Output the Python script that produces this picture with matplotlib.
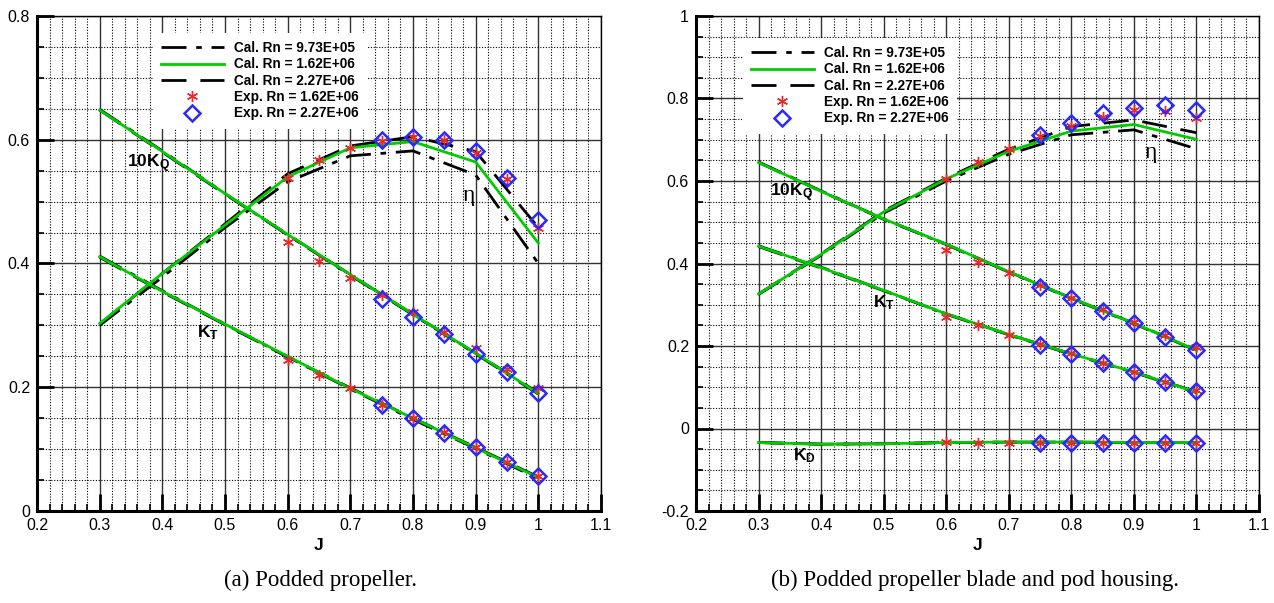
import matplotlib
matplotlib.use("Agg")
import matplotlib.pyplot as plt
from matplotlib.ticker import MultipleLocator, FuncFormatter
from matplotlib.lines import Line2D

plt.rcParams['font.family'] = ['Liberation Sans', 'DejaVu Sans']
plt.rcParams['mathtext.fontset'] = 'custom'
plt.rcParams['mathtext.rm'] = 'Liberation Sans'
plt.rcParams['mathtext.bf'] = 'Liberation Sans:bold'

# ---------------- data ----------------
J_cal = [0.3, 0.4, 0.5, 0.6, 0.7, 0.8, 0.9, 1.0]
J_exp162 = [0.6, 0.65, 0.7, 0.75, 0.8, 0.85, 0.9, 0.95, 1.0]
J_exp227 = [0.75, 0.8, 0.85, 0.9, 0.95, 1.0]

legend_labels = ["Cal. Rn = 9.73E+05", "Cal. Rn = 1.62E+06", "Cal. Rn = 2.27E+06",
                 "Exp. Rn = 1.62E+06", "Exp. Rn = 2.27E+06"]

# (a) podded propeller
a_eta_973 = [0.300, 0.378, 0.458, 0.532, 0.574, 0.582, 0.543, 0.400]
a_eta_162 = [0.303, 0.384, 0.462, 0.540, 0.587, 0.597, 0.564, 0.433]
a_eta_227 = [0.302, 0.384, 0.464, 0.545, 0.590, 0.605, 0.581, 0.458]
a_kt_973 = [0.412, 0.356, 0.302, 0.249, 0.197, 0.148, 0.101, 0.052]
a_kt_162 = [0.411, 0.355, 0.302, 0.250, 0.198, 0.150, 0.102, 0.054]
a_kt_227 = [0.410, 0.354, 0.301, 0.249, 0.199, 0.150, 0.103, 0.055]
a_kq_973 = [0.649, 0.582, 0.513, 0.446, 0.381, 0.317, 0.254, 0.189]
a_kq_162 = [0.648, 0.581, 0.513, 0.447, 0.382, 0.318, 0.255, 0.190]
a_kq_227 = [0.648, 0.580, 0.512, 0.447, 0.382, 0.318, 0.255, 0.191]
a_eta_e162 = [0.538, 0.567, 0.587, 0.598, 0.605, 0.600, 0.578, 0.537, 0.458]
a_kt_e162 = [0.244, 0.220, 0.198, 0.172, 0.150, 0.127, 0.104, 0.080, 0.057]
a_kq_e162 = [0.435, 0.404, 0.377, 0.349, 0.322, 0.290, 0.263, 0.229, 0.198]
a_eta_e227 = [0.600, 0.605, 0.600, 0.582, 0.538, 0.470]
a_kt_e227 = [0.172, 0.150, 0.126, 0.103, 0.079, 0.057]
a_kq_e227 = [0.343, 0.314, 0.286, 0.254, 0.225, 0.191]

# (b) blade and pod housing
b_eta_973 = [0.325, 0.420, 0.522, 0.600, 0.665, 0.712, 0.724, 0.678]
b_eta_162 = [0.326, 0.422, 0.525, 0.605, 0.672, 0.721, 0.737, 0.701]
b_eta_227 = [0.326, 0.423, 0.527, 0.607, 0.677, 0.732, 0.748, 0.717]
b_kt_973 = [0.443, 0.391, 0.335, 0.277, 0.227, 0.180, 0.136, 0.087]
b_kt_162 = [0.442, 0.390, 0.335, 0.278, 0.228, 0.181, 0.137, 0.088]
b_kt_227 = [0.441, 0.389, 0.334, 0.278, 0.228, 0.181, 0.137, 0.089]
b_kq_973 = [0.646, 0.576, 0.508, 0.446, 0.379, 0.315, 0.254, 0.189]
b_kq_162 = [0.645, 0.575, 0.508, 0.447, 0.380, 0.316, 0.255, 0.190]
b_kq_227 = [0.645, 0.575, 0.507, 0.447, 0.380, 0.316, 0.255, 0.191]
b_kd_973 = [-0.034, -0.038, -0.037, -0.034, -0.033, -0.033, -0.034, -0.034]
b_kd_162 = [-0.034, -0.038, -0.037, -0.034, -0.033, -0.033, -0.034, -0.034]
b_kd_227 = [-0.034, -0.038, -0.037, -0.034, -0.033, -0.033, -0.034, -0.035]
b_eta_e162 = [0.606, 0.645, 0.677, 0.708, 0.733, 0.756, 0.772, 0.770, 0.752]
b_kt_e162 = [0.271, 0.251, 0.227, 0.204, 0.182, 0.160, 0.138, 0.113, 0.093]
b_kq_e162 = [0.433, 0.404, 0.376, 0.348, 0.316, 0.289, 0.259, 0.227, 0.198]
b_kd_e162 = [-0.033, -0.034, -0.034, -0.034, -0.034, -0.034, -0.034, -0.035, -0.035]
b_eta_e227 = [0.711, 0.740, 0.764, 0.778, 0.784, 0.772]
b_kt_e227 = [0.203, 0.181, 0.159, 0.137, 0.112, 0.092]
b_kq_e227 = [0.344, 0.316, 0.286, 0.255, 0.223, 0.190]
b_kd_e227 = [-0.035, -0.035, -0.036, -0.036, -0.036, -0.036]

# ---------------- styles ----------------
GREEN = '#00cc00'
RED = '#e8282a'
BLUE = '#2a2aff'
DASHDOT = (0, (9, 3.5, 2, 3.5))
DASHED = (0, (9, 5))
STAR = (6, 2, 0)
STAR_KW = dict(marker=STAR, ms=8, mew=1.0, color=RED)
DIAM_KW = dict(marker='D', ms=8.5, mew=1.8, mfc='none', mec=BLUE)

W, H = 1274, 603
fig = plt.figure(figsize=(W / 100, H / 100), dpi=100)
axA = fig.add_axes([37 / W, 1 - 511 / H, (601 - 37) / W, (511 - 16) / H])
axB = fig.add_axes([696 / W, 1 - 511 / H, (1259 - 696) / W, (511 - 16) / H])


def style_axes(ax, ymin, ymax):
    ax.set_xlim(0.2, 1.1)
    ax.set_ylim(ymin, ymax)
    ax.xaxis.set_major_locator(MultipleLocator(0.1))
    ax.xaxis.set_minor_locator(MultipleLocator(0.02))
    ax.yaxis.set_major_locator(MultipleLocator(0.2))
    ax.yaxis.set_minor_locator(MultipleLocator(0.05))
    fmt = FuncFormatter(lambda v, p: ('%g' % round(v, 3)))
    ax.xaxis.set_major_formatter(fmt)
    ax.yaxis.set_major_formatter(fmt)
    ax.grid(which='major', color='#333333', lw=1.0, ls='-', zorder=0)
    ax.grid(which='minor', color='#000000', lw=0.8, ls=(0, (1, 1.5)), zorder=0)
    ax.set_axisbelow(True)
    for s in ('left', 'bottom'):
        ax.spines[s].set_linewidth(2.2)
    for s in ('top', 'right'):
        ax.spines[s].set_linewidth(1.0)
    ax.tick_params(which='major', direction='in', length=12, width=2,
                   labelsize=11.5, top=False, right=False, pad=5)
    ax.tick_params(which='minor', direction='in', length=5, width=1.2,
                   top=False, right=False)
    ax.set_xlabel('J', fontsize=12.5, fontweight='bold', labelpad=4)


def plot_calc(ax, y973, y162, y227):
    ax.plot(J_cal, y973, color='black', lw=2, ls=DASHDOT, zorder=3)
    ax.plot(J_cal, y162, color=GREEN, lw=2, ls='-', zorder=4)
    ax.plot(J_cal, y227, color='black', lw=2, ls=DASHED, zorder=3)


def plot_exp(ax, y162, y227):
    ax.plot(J_exp162, y162, ls='none', zorder=5, **STAR_KW)
    ax.plot(J_exp227, y227, ls='none', zorder=6, **DIAM_KW)


def add_legend(ax, x0, y0):
    handles = [
        Line2D([], [], color='black', lw=2, ls=DASHDOT),
        Line2D([], [], color=GREEN, lw=2, ls='-'),
        Line2D([], [], color='black', lw=2, ls=DASHED),
        Line2D([], [], ls='none', **STAR_KW),
        Line2D([], [], ls='none', **DIAM_KW),
    ]
    leg = ax.legend(handles, legend_labels, loc='upper left',
                    bbox_to_anchor=(x0, y0), borderaxespad=0,
                    frameon=True, fancybox=False, facecolor='white',
                    edgecolor='none', framealpha=1, handlelength=4.6,
                    handletextpad=0.75, labelspacing=0.17, borderpad=0.6,
                    prop={'weight': 'bold', 'size': 9.8}, numpoints=1)
    leg.set_zorder(10)


# ---------------- panel (a) ----------------
style_axes(axA, 0, 0.8)
plot_calc(axA, a_eta_973, a_eta_162, a_eta_227)
plot_calc(axA, a_kt_973, a_kt_162, a_kt_227)
plot_calc(axA, a_kq_973, a_kq_162, a_kq_227)
plot_exp(axA, a_eta_e162, a_eta_e227)
plot_exp(axA, a_kt_e162, a_kt_e227)
plot_exp(axA, a_kq_e162, a_kq_e227)
add_legend(axA, (153 - 37) / 564, 1 - (33 - 16) / 495)
axA.text(0.344, 0.562, r'$\mathbf{10K_Q}$', fontsize=12.5, va='center', ha='left', zorder=8)
axA.text(0.455, 0.288, r'$\mathbf{K_T}$', fontsize=12.5, va='center', ha='left', zorder=8)
axA.text(0.879, 0.51, 'η', fontsize=17, va='center', ha='left',
         family=['Liberation Serif', 'DejaVu Serif'], zorder=8)

# ---------------- panel (b) ----------------
style_axes(axB, -0.2, 1.0)
plot_calc(axB, b_eta_973, b_eta_162, b_eta_227)
plot_calc(axB, b_kt_973, b_kt_162, b_kt_227)
plot_calc(axB, b_kq_973, b_kq_162, b_kq_227)
plot_calc(axB, b_kd_973, b_kd_162, b_kd_227)
plot_exp(axB, b_eta_e162, b_eta_e227)
plot_exp(axB, b_kt_e162, b_kt_e227)
plot_exp(axB, b_kq_e162, b_kq_e227)
plot_exp(axB, b_kd_e162, b_kd_e227)
add_legend(axB, (743 - 696) / 563, 1 - (38 - 16) / 495)
axB.text(0.318, 0.571, r'$\mathbf{10K_Q}$', fontsize=12.5, va='center', ha='left', zorder=8)
axB.text(0.483, 0.304, r'$\mathbf{K_T}$', fontsize=12.5, va='center', ha='left', zorder=8)
axB.text(0.355, -0.066, r'$\mathbf{K_D}$', fontsize=12.5, va='center', ha='left', zorder=8)
axB.text(0.918, 0.668, 'η', fontsize=17, va='center', ha='left',
         family=['Liberation Serif', 'DejaVu Serif'], zorder=8)

# ---------------- captions ----------------
fig.text(320 / W, 1 - 580 / H, '(a) Podded propeller.', ha='center', va='center',
         fontsize=16.5, family=['Liberation Serif', 'DejaVu Serif'])
fig.text(975 / W, 1 - 580 / H, '(b) Podded propeller blade and pod housing.',
         ha='center', va='center', fontsize=16.5,
         family=['Liberation Serif', 'DejaVu Serif'])

fig.savefig('out.png', dpi=100)
